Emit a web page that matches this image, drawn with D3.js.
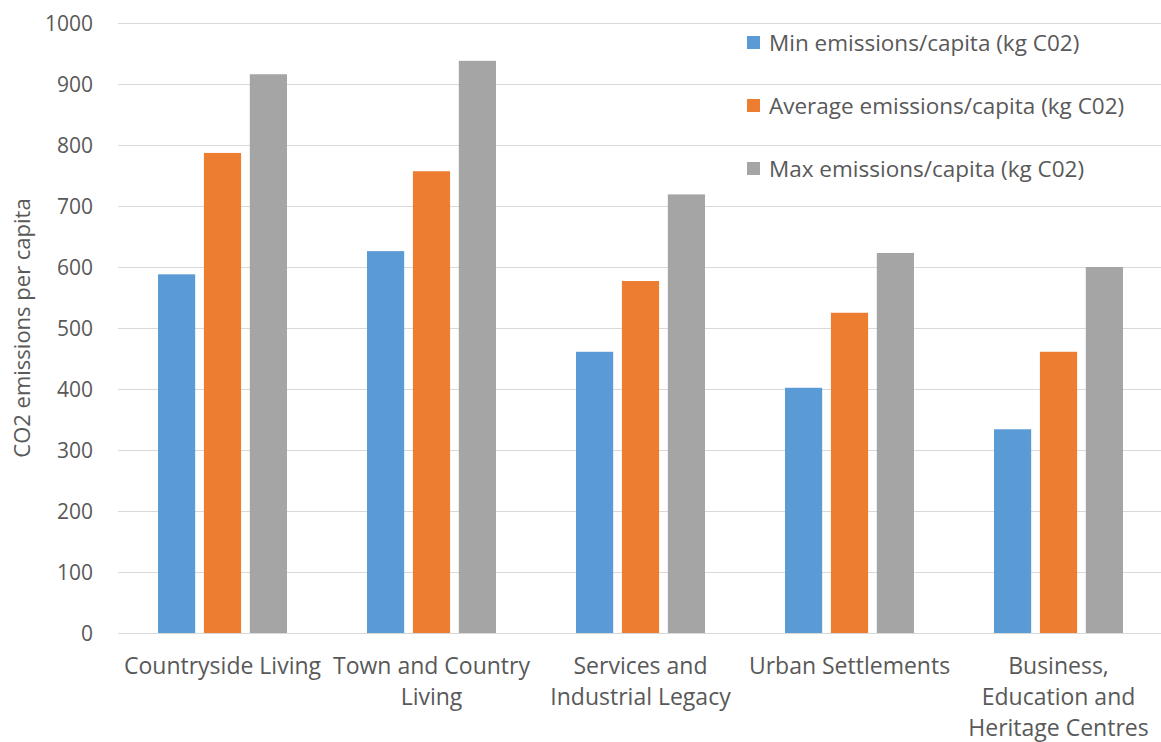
<!DOCTYPE html>
<html>
<head>
    <script src="https://d3js.org/d3.v7.min.js"></script>
    <style>
        body { margin: 0; background: #fff; }
        svg { display: block; font-family: "Open Sans", sans-serif; }
    </style>
</head>
<body>
    <svg width="1161" height="742"></svg>
    <script>
        // Chart data
        const categories = ["Countryside Living", "Town and Country\nLiving", "Services and\nIndustrial Legacy",
                            "Urban Settlements", "Business,\nEducation and\nHeritage Centres"];
        const seriesNames = ["Min emissions/capita (kg C02)", "Average emissions/capita (kg C02)",
                             "Max emissions/capita (kg C02)"];
        const minValues = [588, 626, 461, 402, 334];
        const avgValues = [787, 757, 577, 525, 461];
        const maxValues = [916, 938, 719, 623, 600];
        const yTicks = [0, 100, 200, 300, 400, 500, 600, 700, 800, 900, 1000];
        const colors = ["#5b9bd5", "#ed7d31", "#a5a5a5"];

        const series = [minValues, avgValues, maxValues];
        const svg = d3.select("svg");
        const plotLeft = 118, plotRight = 1163, plotTop = 23, plotBottom = 633;

        const x = d3.scaleBand().domain(categories).range([plotLeft, plotRight]);
        const xs = d3.scaleBand().domain([0, 1, 2]).range([40, x.bandwidth() - 40]).paddingInner(0.19);
        const y = d3.scaleLinear().domain([0, 1000]).range([plotBottom, plotTop]);

        // gridlines
        svg.append("g").selectAll("line").data(yTicks).join("line")
            .attr("x1", plotLeft).attr("x2", 1161)
            .attr("y1", d => y(d) + 0.5).attr("y2", d => y(d) + 0.5)
            .attr("stroke", "#d9d9d9").attr("stroke-width", 1);

        // y tick labels
        svg.append("g").selectAll("text").data(yTicks).join("text")
            .attr("x", 93).attr("y", d => y(d))
            .attr("dy", "0.36em").attr("text-anchor", "end")
            .attr("font-size", 21).attr("fill", "#595959")
            .text(d => d);

        // y axis title
        svg.append("text")
            .attr("transform", "translate(30,328) rotate(-90)")
            .attr("text-anchor", "middle").attr("font-size", 22).attr("fill", "#595959")
            .text("CO2 emissions per capita");

        // bars
        series.forEach((vals, s) => {
            svg.append("g").selectAll("rect").data(vals).join("rect")
                .attr("x", (d, i) => x(categories[i]) + xs(s))
                .attr("width", xs.bandwidth())
                .attr("y", d => y(d))
                .attr("height", d => y(0) - y(d))
                .attr("fill", colors[s]);
        });

        // category labels
        const catG = svg.append("g").selectAll("text").data(categories).join("text")
            .attr("x", d => x(d) + x.bandwidth() / 2)
            .attr("y", 674)
            .attr("text-anchor", "middle").attr("font-size", 23).attr("fill", "#595959");
        catG.each(function(d) {
            d3.select(this).selectAll("tspan").data(d.split("\n")).join("tspan")
                .attr("x", x(d) + x.bandwidth() / 2)
                .attr("dy", (t, i) => i === 0 ? 0 : 31)
                .text(t => t);
        });

        // legend
        const legend = svg.append("g").selectAll("g").data(seriesNames).join("g")
            .attr("transform", (d, i) => "translate(747," + (43 + i * 63) + ")");
        legend.append("rect").attr("x", 0).attr("y", -7).attr("width", 13).attr("height", 13)
            .attr("fill", (d, i) => colors[i]);
        legend.append("text").attr("x", 22).attr("dy", "0.35em")
            .attr("font-size", 22.5).attr("fill", "#595959")
            .text(d => d);
    </script>
</body>
</html>
